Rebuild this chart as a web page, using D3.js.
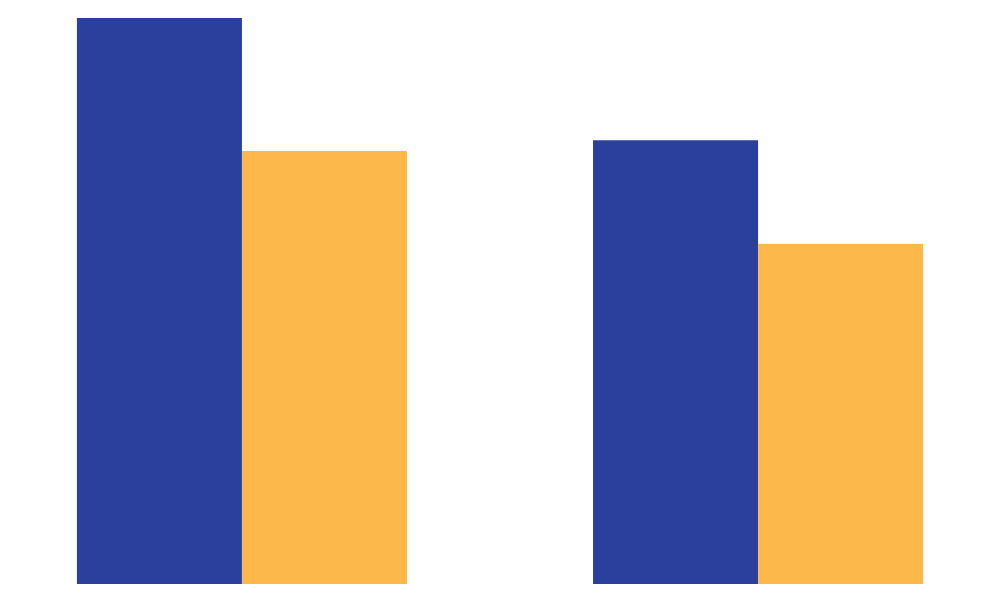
<!DOCTYPE html>
<html>
<head>
<meta charset="utf-8">
<script src="https://cdn.jsdelivr.net/npm/d3@7"></script>
<style>
  html, body { margin: 0; padding: 0; background: #ffffff; }
  svg { display: block; }
</style>
</head>
<body>
<svg id="chart" width="1000" height="600"></svg>
<script>
// Data (relative units, tallest bar = 100)
const categories = ["Group 1", "Group 2"];
const seriesNames = ["Series A", "Series B"];
const seriesA = [100, 78.4];
const seriesB = [76.5, 60.1];
const colors = ["#2B3F9C", "#FDB84B"];

const width = 1000, height = 600;
const svg = d3.select("#chart");

const x0 = d3.scaleBand()
  .domain(categories)
  .range([0, width])
  .paddingInner(0.3605)
  .paddingOuter(0.149);

const x1 = d3.scaleBand()
  .domain(seriesNames)
  .range([0, x0.bandwidth()])
  .padding(0);

const y = d3.scaleLinear()
  .domain([0, 100])
  .range([584, 18]);

const rows = categories.map((c, i) => ({
  category: c,
  values: [
    { series: seriesNames[0], value: seriesA[i] },
    { series: seriesNames[1], value: seriesB[i] }
  ]
}));

const color = d3.scaleOrdinal().domain(seriesNames).range(colors);

const g = svg.selectAll("g.group")
  .data(rows)
  .join("g")
  .attr("class", "group")
  .attr("transform", d => `translate(${x0(d.category)},0)`);

g.selectAll("rect")
  .data(d => d.values)
  .join("rect")
  .attr("x", d => x1(d.series))
  .attr("y", d => y(d.value))
  .attr("width", x1.bandwidth())
  .attr("height", d => y(0) - y(d.value))
  .attr("fill", d => color(d.series));
</script>
</body>
</html>
